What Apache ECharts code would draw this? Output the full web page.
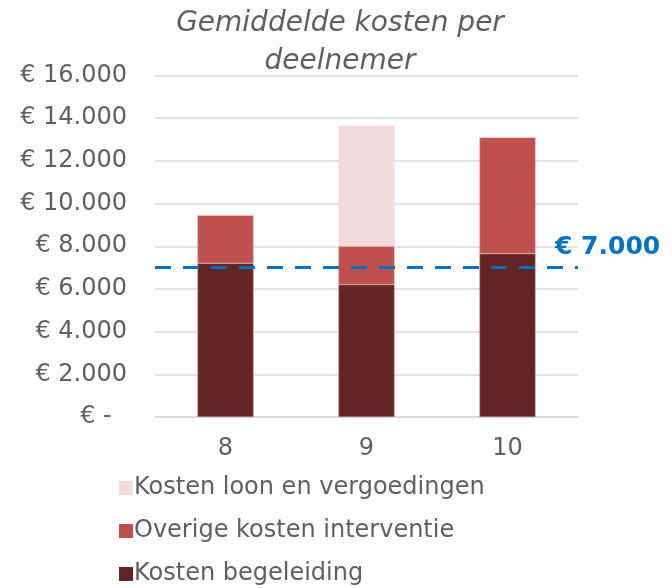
<!DOCTYPE html>
<html><head><meta charset="utf-8">
<script src="https://cdn.jsdelivr.net/npm/echarts@6/dist/echarts.min.js"></script>
<style>html,body{margin:0;padding:0;background:#fff}#c{width:672px;height:588px}</style>
</head><body><div id="c"></div>
<script>
var categories = ['8', '9', '10'];
var begeleiding = [7200, 6200, 7650];
var overige = [2250, 1800, 5450];
var loon = [0, 5650, 0];
var norm = 7000;
var yTicks = [0, 16000, 2000];

function fmt(v) {
  if (v === 0) return '€ -  ';
  return '€ ' + String(v).replace(/\B(?=(\d{3})+(?!\d))/g, '.');
}

var chart = echarts.init(document.getElementById('c'));
var txt = '#5f5f5f';
var font = "'DejaVu Sans', sans-serif";
chart.setOption({
  animation: false,
  textStyle: { fontFamily: font },
  title: {
    text: 'Gemiddelde kosten per\ndeelnemer',
    left: 335, top: 0, textAlign: 'center',
    textStyle: { fontSize: 28, fontStyle: 'italic', fontWeight: 'normal', color: txt, lineHeight: 38, fontFamily: font }
  },
  grid: { left: 155, right: 94, top: 75.5, bottom: 171 },
  legend: {
    orient: 'vertical', left: 114, top: 471, itemGap: 19, height: 117,
    itemWidth: 14, itemHeight: 14, icon: 'rect',
    itemStyle: { borderWidth: 0 },
    textStyle: { fontSize: 24, lineHeight: 24, color: txt, fontFamily: font, padding: [0, 0, 0, -4] },
    data: ['Kosten loon en vergoedingen', 'Overige kosten interventie', 'Kosten begeleiding']
  },
  xAxis: {
    type: 'category', data: categories,
    axisLine: { show: true, lineStyle: { color: '#d9d9d9', width: 1.5 } },
    axisTick: { show: false },
    axisLabel: { fontSize: 24, color: txt, margin: 20 }
  },
  yAxis: {
    type: 'value', min: yTicks[0], max: yTicks[1], interval: yTicks[2],
    axisLine: { show: false }, axisTick: { show: false },
    splitLine: { lineStyle: { color: '#d9d9d9', width: 1.5 } },
    axisLabel: { fontSize: 24, color: txt, margin: 28, formatter: fmt }
  },
  series: [
    { name: 'Kosten begeleiding', type: 'bar', stack: 's', data: begeleiding, barWidth: 56,
      itemStyle: { color: '#632523', borderColor: '#b98f8e', borderWidth: 0.5 },
      markLine: {
        symbol: 'none', silent: true,
        lineStyle: { color: '#0070C0', width: 3, type: [16, 12] },
        label: { show: true, position: 'end', formatter: '€ 7.000', color: '#0070C0', fontWeight: 'bold', fontSize: 25, fontFamily: font, distance: -23, verticalAlign: 'bottom', padding: [0, 0, 8, 0] },
        data: [{ yAxis: norm }]
      }
    },
    { name: 'Overige kosten interventie', type: 'bar', stack: 's', data: overige, barWidth: 56,
      itemStyle: { color: '#C0504D', borderColor: '#e0a09e', borderWidth: 0.5 } },
    { name: 'Kosten loon en vergoedingen', type: 'bar', stack: 's', data: loon, barWidth: 56,
      itemStyle: { color: '#F2DCDB', borderColor: '#f0d0cf', borderWidth: 0.5 } }
  ]
});
</script></body></html>
